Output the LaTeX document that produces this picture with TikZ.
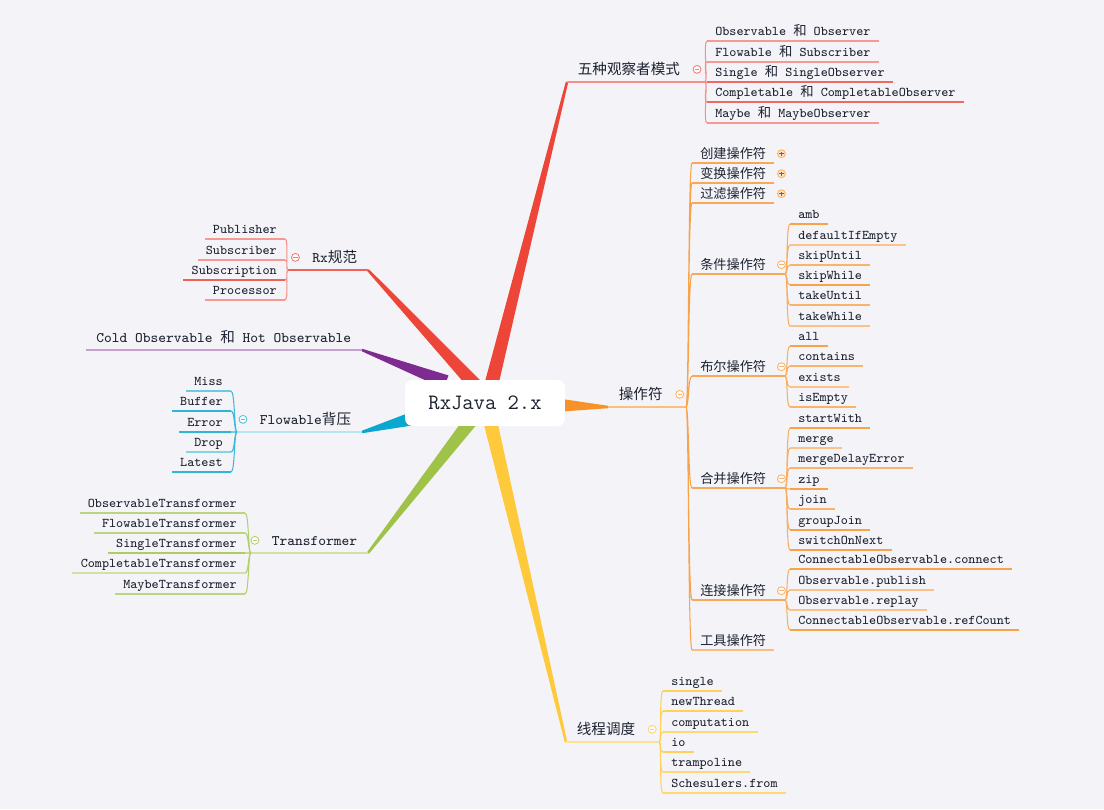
\documentclass[tikz,border=0pt]{standalone}
\usepackage{fontspec}
\newfontfamily\cjk{Noto Sans CJK SC}
\usepackage{tikz}
\usetikzlibrary{calc,positioning}
\definecolor{canvas}{HTML}{F4F4F8}
\definecolor{ink}{HTML}{1C2230}
\definecolor{obsRed}{HTML}{EE4539}
\definecolor{opOrange}{HTML}{F7922A}
\definecolor{schedYellow}{HTML}{FFC93C}
\definecolor{coldPurple}{HTML}{7D2A91}
\definecolor{flowCyan}{HTML}{0AA8D0}
\definecolor{transGreen}{HTML}{9FC349}
\newcommand{\zh}[1]{{\cjk #1}}
\tikzset{
  central/.style={rounded corners=4pt, fill=white, minimum width=91pt, minimum height=26pt,
    font=\fontsize{12.5}{14}\selectfont\ttfamily, text=ink},
  topic/.style={font=\fontsize{8.3}{10}\selectfont\ttfamily, text=ink,
    inner xsep=6pt, inner ysep=1.5pt, text height=8.5pt, text depth=2.5pt},
  leaf/.style={font=\fontsize{7.6}{9}\selectfont\ttfamily, text=ink,
    inner xsep=4.5pt, inner ysep=1pt, text height=6pt, text depth=1.8pt,
    append after command={(\tikzlastnode.south west) edge[draw=#1, line width=0.6pt] (\tikzlastnode.south east)}},
  subtopic/.style={leaf=#1, font=\fontsize{7.5}{9}\selectfont\cjk, text height=7pt, text depth=1.2pt},
  stem/.style={draw=#1, line width=0.7pt},
  twig/.style={draw=#1, line width=0.6pt},
  fanR/.style={to path={.. controls +(3,0) and +(-4,0) .. (\tikztotarget)}},
  fanL/.style={to path={.. controls +(-3,0) and +(4,0) .. (\tikztotarget)}},
  fold/.style={circle, draw=#1, line width=0.5pt, fill=white, minimum size=4.5pt, inner sep=0pt,
    path picture={\draw[#1, line width=0.45pt] ([xshift=1pt]path picture bounding box.west) -- ([xshift=-1pt]path picture bounding box.east);}},
  folded/.style={circle, draw=#1!70, line width=0.5pt, fill=#1!25, minimum size=4.5pt, inner sep=0pt,
    path picture={\draw[#1!60!black, line width=0.45pt] ([xshift=1pt]path picture bounding box.west) -- ([xshift=-1pt]path picture bounding box.east)
      ([yshift=-1pt]path picture bounding box.north) -- ([yshift=1pt]path picture bounding box.south);}}
}
% tapered limb from the centre to a branch tip
\newcommand{\limb}[3]{%
  \fill[#3] ($(#1)!4pt!90:(#2)$) -- ($(#2)!0.7pt!-90:(#1)$) -- ($(#2)!0.7pt!90:(#1)$) -- ($(#1)!4pt!-90:(#2)$) -- cycle;
}

\begin{document}
\begin{tikzpicture}[x=0.02cm,y=-0.02cm]
\path[use as bounding box] (0,0) rectangle (1104,809);
\fill[canvas] (0,0) rectangle (1104,809);

% branch tips and forks
\coordinate (obsTip) at (567,82);   \coordinate (obsFork) at (705,82);
\coordinate (opTip) at (608,407);   \coordinate (opFork) at (686,407);
\coordinate (schTip) at (566,742);  \coordinate (schFork) at (659,742);
\coordinate (rxTip) at (368,270);   \coordinate (rxFork) at (288,270);
\coordinate (coldTip) at (362,350);
\coordinate (flowTip) at (362,432); \coordinate (flowFork) at (237,432);
\coordinate (trTip) at (368,553);   \coordinate (trFork) at (251,553);

\limb{490,390}{obsTip}{obsRed}
\limb{555,405}{opTip}{opOrange}
\limb{489,416}{schTip}{schedYellow}
\limb{477,387}{rxTip}{obsRed}
\limb{446,382}{coldTip}{coldPurple}
\limb{415,418}{flowTip}{flowCyan}
\limb{473,418}{trTip}{transGreen}

\node[central] (rxjava) at (485,403) {RxJava 2.x};

% observer pairs
\draw[stem=obsRed!60] (obsTip) -- (obsFork);
\node[topic, anchor=south west] (obs) at (obsTip) {\zh{五种观察者模式}};
\node[fold=obsRed!70, right=1pt of obs] (obsFold) {};
\node[leaf=obsRed!55, anchor=south west] (obsPair) at (707,41) {Observable \zh{和} Observer};
\node[leaf=obsRed!55, anchor=south west] (flowPair) at (707,62) {Flowable \zh{和} Subscriber};
\node[leaf=obsRed!80, anchor=south west] (singlePair) at (707,82) {Single \zh{和} SingleObserver};
\node[leaf=obsRed!80, anchor=south west] (complPair) at (707,102) {Completable \zh{和} CompletableObserver};
\node[leaf=obsRed!55, anchor=south west] (maybePair) at (707,123) {Maybe \zh{和} MaybeObserver};
\draw[twig=obsRed!60] (obsFork) to[fanR] (obsPair.south west) (obsFork) to[fanR] (flowPair.south west)
  (obsFork) to[fanR] (singlePair.south west) (obsFork) to[fanR] (complPair.south west)
  (obsFork) to[fanR] (maybePair.south west);

% operators
\draw[stem=opOrange!60] (opTip) -- (opFork);
\node[topic, anchor=south west] (ops) at (opTip) {\zh{操作符}};
\node[fold=opOrange!70, right=1pt of ops] (opsFold) {};
\node[subtopic=opOrange!80, anchor=south west] (create) at (692,163) {创建操作符};
\node[subtopic=opOrange!80, anchor=south west] (transform) at (692,183) {变换操作符};
\node[subtopic=opOrange!80, anchor=south west] (filter) at (692,203) {过滤操作符};
\node[subtopic=opOrange!80, anchor=south west] (cond) at (692,274) {条件操作符};
\node[subtopic=opOrange!80, anchor=south west] (bool) at (692,376) {布尔操作符};
\node[subtopic=opOrange!80, anchor=south west] (combine) at (692,488) {合并操作符};
\node[subtopic=opOrange!80, anchor=south west] (connect) at (692,600) {连接操作符};
\node[subtopic=opOrange!60, anchor=south west] (utility) at (692,650) {工具操作符};
\node[folded=opOrange, right=1.5pt of create] (createFold) {};
\node[folded=opOrange, right=1.5pt of transform] (transformFold) {};
\node[folded=opOrange, right=1.5pt of filter] (filterFold) {};
\node[fold=opOrange!70, right=1.5pt of cond] (condFold) {};
\node[fold=opOrange!70, right=1.5pt of bool] (boolFold) {};
\node[fold=opOrange!70, right=1.5pt of combine] (combineFold) {};
\node[fold=opOrange!70, right=1.5pt of connect] (connectFold) {};
\draw[twig=opOrange!85] (opFork) to[fanR] (create.south west) (opFork) to[fanR] (transform.south west)
  (opFork) to[fanR] (filter.south west) (opFork) to[fanR] (cond.south west)
  (opFork) to[fanR] (bool.south west) (opFork) to[fanR] (combine.south west)
  (opFork) to[fanR] (connect.south west) (opFork) to[fanR] (utility.south west);

\coordinate (condFork) at (785,274);
\coordinate (boolFork) at (785,376);
\coordinate (combineFork) at (785,488);
\coordinate (connectFork) at (785,600);
\draw[twig=opOrange!80] (cond.south east) -- (condFork) (bool.south east) -- (boolFork)
  (combine.south east) -- (combineFork) (connect.south east) -- (connectFork);

\node[leaf=opOrange!85, anchor=south west] (amb) at (790,224) {amb};
\node[leaf=opOrange!55, anchor=south west] (defIfEmpty) at (790,245) {defaultIfEmpty};
\node[leaf=opOrange!70, anchor=south west] (skipUntil) at (790,265) {skipUntil};
\node[leaf=opOrange!85, anchor=south west] (skipWhile) at (790,285) {skipWhile};
\node[leaf=opOrange!70, anchor=south west] (takeUntil) at (790,305) {takeUntil};
\node[leaf=opOrange!55, anchor=south west] (takeWhile) at (790,326) {takeWhile};
\draw[twig=opOrange!75] (condFork) to[fanR] (amb.south west) (condFork) to[fanR] (defIfEmpty.south west)
  (condFork) to[fanR] (skipUntil.south west) (condFork) to[fanR] (skipWhile.south west)
  (condFork) to[fanR] (takeUntil.south west) (condFork) to[fanR] (takeWhile.south west);

\node[leaf=opOrange!85, anchor=south west] (all) at (790,346) {all};
\node[leaf=opOrange!70, anchor=south west] (contains) at (790,366) {contains};
\node[leaf=opOrange!55, anchor=south west] (exists) at (790,387) {exists};
\node[leaf=opOrange!70, anchor=south west] (isEmpty) at (790,407) {isEmpty};
\draw[twig=opOrange!75] (boolFork) to[fanR] (all.south west) (boolFork) to[fanR] (contains.south west)
  (boolFork) to[fanR] (exists.south west) (boolFork) to[fanR] (isEmpty.south west);

\node[leaf=opOrange!85, anchor=south west] (startWith) at (790,428) {startWith};
\node[leaf=opOrange!55, anchor=south west] (merge) at (790,448) {merge};
\node[leaf=opOrange!70, anchor=south west] (mergeDelay) at (790,468) {mergeDelayError};
\node[leaf=opOrange!85, anchor=south west] (zip) at (790,489) {zip};
\node[leaf=opOrange!70, anchor=south west] (join) at (790,509) {join};
\node[leaf=opOrange!85, anchor=south west] (groupJoin) at (790,530) {groupJoin};
\node[leaf=opOrange!85, anchor=south west] (switchNext) at (790,550) {switchOnNext};
\draw[twig=opOrange!75] (combineFork) to[fanR] (startWith.south west) (combineFork) to[fanR] (merge.south west)
  (combineFork) to[fanR] (mergeDelay.south west) (combineFork) to[fanR] (zip.south west)
  (combineFork) to[fanR] (join.south west) (combineFork) to[fanR] (groupJoin.south west)
  (combineFork) to[fanR] (switchNext.south west);

\node[leaf=opOrange!85, anchor=south west] (cConnect) at (790,569) {ConnectableObservable.connect};
\node[leaf=opOrange!55, anchor=south west] (publish) at (790,590) {Observable.publish};
\node[leaf=opOrange!55, anchor=south west] (replay) at (790,610) {Observable.replay};
\node[leaf=opOrange!85, anchor=south west] (refCount) at (790,630) {ConnectableObservable.refCount};
\draw[twig=opOrange!75] (connectFork) to[fanR] (cConnect.south west) (connectFork) to[fanR] (publish.south west)
  (connectFork) to[fanR] (replay.south west) (connectFork) to[fanR] (refCount.south west);

% schedulers
\draw[stem=schedYellow!55] (schTip) -- (schFork);
\node[topic, anchor=south west] (sched) at (schTip) {\zh{线程调度}};
\node[fold=schedYellow!80, right=1pt of sched] (schedFold) {};
\node[leaf=schedYellow!85, anchor=south west] (single) at (663,691) {single};
\node[leaf=schedYellow!85, anchor=south west] (newThread) at (663,711) {newThread};
\node[leaf=schedYellow!70, anchor=south west] (computation) at (663,732) {computation};
\node[leaf=schedYellow!85, anchor=south west] (io) at (663,752) {io};
\node[leaf=schedYellow!70, anchor=south west] (trampoline) at (663,772) {trampoline};
\node[leaf=schedYellow!70, anchor=south west] (schFrom) at (663,793) {Schesulers.from};
\draw[twig=schedYellow!85] (schFork) to[fanR] (single.south west) (schFork) to[fanR] (newThread.south west)
  (schFork) to[fanR] (computation.south west) (schFork) to[fanR] (io.south west)
  (schFork) to[fanR] (trampoline.south west) (schFork) to[fanR] (schFrom.south west);

% Rx spec
\draw[stem=obsRed!85] (rxFork) -- (rxTip);
\node[topic, anchor=south east] (rxSpec) at (rxTip) {Rx\zh{规范}};
\node[fold=obsRed!70, left=1pt of rxSpec] (rxFold) {};
\node[leaf=obsRed!55, anchor=south east] (publisher) at (285,239) {Publisher};
\node[leaf=obsRed!55, anchor=south east] (subscriber) at (285,260) {Subscriber};
\node[leaf=obsRed!85, anchor=south east] (subscription) at (285,280) {Subscription};
\node[leaf=obsRed!55, anchor=south east] (processor) at (285,300) {Processor};
\draw[twig=obsRed!60] (rxFork) to[fanL] (publisher.south east) (rxFork) to[fanL] (subscriber.south east)
  (rxFork) to[fanL] (subscription.south east) (rxFork) to[fanL] (processor.south east);

% cold and hot
\node[topic, anchor=south east] (coldHot) at (coldTip) {Cold Observable \zh{和} Hot Observable};
\draw[stem=coldPurple!45] (coldHot.south west) -- (coldTip);

% backpressure
\draw[stem=flowCyan!30] (flowFork) -- (flowTip);
\node[topic, anchor=south east] (backp) at (flowTip) {Flowable\zh{背压}};
\node[fold=flowCyan!70, left=1pt of backp] (backpFold) {};
\node[leaf=flowCyan!60, anchor=south east] (miss) at (231,391) {Miss};
\node[leaf=flowCyan!85, anchor=south east] (buffer) at (231,411) {Buffer};
\node[leaf=flowCyan!85, anchor=south east] (error) at (231,432) {Error};
\node[leaf=flowCyan!50, anchor=south east] (drop) at (231,452) {Drop};
\node[leaf=flowCyan!85, anchor=south east] (latest) at (231,472) {Latest};
\draw[twig=flowCyan!80] (flowFork) to[fanL] (miss.south east) (flowFork) to[fanL] (buffer.south east)
  (flowFork) to[fanL] (error.south east) (flowFork) to[fanL] (drop.south east)
  (flowFork) to[fanL] (latest.south east);

% transformers
\draw[stem=transGreen!50] (trFork) -- (trTip);
\node[topic, anchor=south east] (trans) at (trTip) {Transformer};
\node[fold=transGreen!80, left=1pt of trans] (transFold) {};
\node[leaf=transGreen!70, anchor=south east] (obsTr) at (245,513) {ObservableTransformer};
\node[leaf=transGreen!70, anchor=south east] (flowTr) at (245,533) {FlowableTransformer};
\node[leaf=transGreen!85, anchor=south east] (singleTr) at (245,553) {SingleTransformer};
\node[leaf=transGreen!50, anchor=south east] (complTr) at (245,573) {CompletableTransformer};
\node[leaf=transGreen!70, anchor=south east] (maybeTr) at (245,594) {MaybeTransformer};
\draw[twig=transGreen!80] (trFork) to[fanL] (obsTr.south east) (trFork) to[fanL] (flowTr.south east)
  (trFork) to[fanL] (singleTr.south east) (trFork) to[fanL] (complTr.south east)
  (trFork) to[fanL] (maybeTr.south east);
\end{tikzpicture}
\end{document}
